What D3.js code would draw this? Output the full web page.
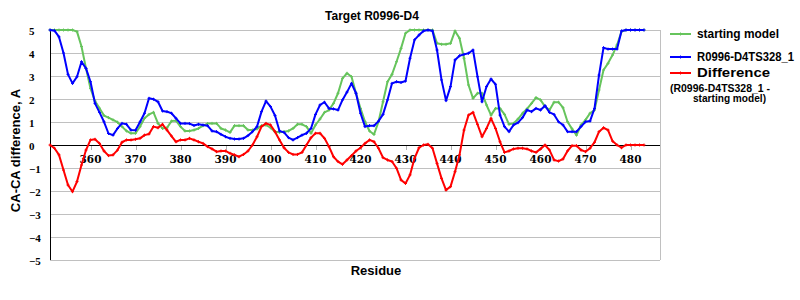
<!DOCTYPE html>
<html>
<head>
<meta charset="utf-8">
<script src="https://cdn.jsdelivr.net/npm/d3@7"></script>
<style>
  html, body { margin: 0; padding: 0; background: #fff; }
  svg { display: block; }
</style>
</head>
<body>
<svg id="chart" width="800" height="300"></svg>
<script>
// ---- data ----
const residueStart = 351;
const residueEnd = 483;
const xTicks = [360, 370, 380, 390, 400, 410, 420, 430, 440, 450, 460, 470, 480];
const yTicks = [-5, -4, -3, -2, -1, 0, 1, 2, 3, 4, 5];
const seriesNames = ["starting model", "R0996-D4TS328_1", "Difference"];

const startingModel = [
  5.0, 5.0, 5.0, 5.0, 5.0, 5.0, 4.93, 4.28, 3.33, 2.46,
  1.91, 1.6, 1.28, 1.19, 1.09, 0.99, 0.8, 0.61, 0.51, 0.51,
  0.8, 1.16, 1.33, 1.42, 0.94, 0.72, 0.75, 1.04, 1.06, 0.8,
  0.61, 0.61, 0.65, 0.72, 0.84, 0.93, 0.94, 0.94, 0.72, 0.65,
  0.55, 0.84, 0.84, 0.84, 0.65, 0.65, 0.7, 0.84, 0.87, 0.75,
  0.58, 0.55, 0.58, 0.61, 0.72, 0.9, 0.9, 0.8, 0.51, 0.87,
  1.13, 1.42, 1.52, 1.81, 2.25, 2.9, 3.12, 2.97, 2.25, 1.59,
  1.01, 0.61, 0.46, 1.01, 1.88, 2.75, 3.07, 3.62, 4.2, 4.86,
  5.0, 5.0, 5.0, 5.0, 5.0, 5.0, 4.42, 4.38, 4.38, 4.42,
  4.96, 4.64, 3.77, 2.61, 2.03, 2.25, 2.25, 1.74, 1.3, 1.59,
  1.59, 1.33, 0.9, 0.94, 1.13, 1.38, 1.57, 1.81, 2.06, 1.96,
  1.67, 1.52, 1.86, 1.86, 1.62, 1.01, 0.7, 0.43, 0.87, 1.09,
  1.38, 1.52, 2.39, 3.26, 3.55, 3.91, 4.35, 4.93, 5.0, 5.0,
  5.0, 5.0, 5.0
];
const modelTS328 = [
  5.0, 4.97, 4.7, 4.0, 3.07, 2.68, 2.97, 3.62, 3.33, 2.75,
  1.81, 1.42, 1.01, 0.5, 0.43, 0.72, 0.94, 0.9, 0.65, 0.64,
  1.0, 1.38, 2.03, 1.99, 1.88, 1.48, 1.45, 1.38, 1.16, 0.94,
  0.94, 0.93, 0.85, 0.9, 0.87, 0.84, 0.61, 0.58, 0.46, 0.36,
  0.29, 0.26, 0.26, 0.29, 0.41, 0.58, 0.8, 1.45, 1.91, 1.67,
  1.28, 0.61, 0.55, 0.32, 0.22, 0.32, 0.43, 0.51, 0.72, 1.33,
  1.74, 1.86, 1.59, 1.57, 1.52, 1.96, 2.3, 2.68, 2.25, 1.38,
  0.8, 0.84, 0.84, 1.04, 1.33, 1.96, 2.68, 2.75, 2.72, 2.78,
  3.77, 4.57, 4.78, 4.96, 5.0, 4.96, 4.13, 2.83, 1.93, 2.54,
  3.7, 3.88, 3.94, 3.99, 4.13, 2.97, 1.88, 2.54, 2.87, 2.64,
  1.3, 0.8, 0.58, 0.87, 0.97, 1.19, 1.52, 1.45, 1.59, 1.52,
  1.71, 1.42, 1.33, 1.01, 0.87, 0.58, 0.58, 0.58, 0.8, 1.01,
  1.04, 1.59, 3.04, 4.23, 4.17, 4.17, 4.17, 4.96, 5.0, 5.0,
  5.0, 5.0, 5.0
];
const difference = [
  0, -0.14, -0.43, -1.09, -1.74, -2.03, -1.59, -0.87, -0.22, 0.22,
  0.25, 0.07, -0.26, -0.46, -0.43, -0.22, 0.12, 0.22, 0.22, 0.25,
  0.29, 0.43, 0.48, 0.8, 0.75, 0.9, 0.65, 0.39, 0.14, 0.22,
  0.22, 0.29, 0.22, 0.14, 0.07, -0.07, -0.17, -0.29, -0.26, -0.26,
  -0.36, -0.43, -0.51, -0.41, -0.26, 0, 0.36, 0.8, 0.94, 0.87,
  0.58, 0.22, -0.12, -0.32, -0.41, -0.41, -0.32, 0, 0.32, 0.51,
  0.51, 0.29, -0.07, -0.51, -0.72, -0.84, -0.65, -0.46, -0.26, -0.12,
  0.07, 0.22, 0.14, -0.14, -0.55, -0.65, -0.72, -1.01, -1.52, -1.67,
  -1.3, -0.58, -0.12, 0, 0.03, -0.14, -0.8, -1.45, -1.96, -1.81,
  -1.16, -0.43, 0.65, 1.3, 1.42, 0.9, 0.36, 0.72, 1.16, 0.72,
  0.14, -0.32, -0.26, -0.17, -0.14, -0.14, -0.17, -0.26, -0.32, -0.17,
  0, -0.22, -0.65, -0.7, -0.61, -0.26, -0.03, -0.03, -0.22, -0.29,
  -0.14, 0.12, 0.58, 0.75, 0.65, 0.17, 0, -0.12, 0, 0,
  0, 0, 0
];
const residues = d3.range(residueStart, residueEnd + 1);

// ---- layout ----
const svg = d3.select("#chart");
const plot = { left: 50, right: 660, top: 30, bottom: 260 };
const x = d3.scaleLinear().domain([351, 486.55]).range([plot.left, plot.right]);
const y = d3.scaleLinear().domain([-5, 5]).range([plot.bottom, plot.top]);
const colors = ["#66c45c", "#0000ff", "#ff0000"];

// gridlines
svg.append("g").selectAll("line").data(yTicks.filter(d => d !== 0)).join("line")
  .attr("x1", plot.left).attr("x2", plot.right)
  .attr("y1", d => y(d)).attr("y2", d => y(d))
  .attr("stroke", "#c0c0c0").attr("stroke-width", 1).attr("shape-rendering", "crispEdges");

// right border
svg.append("line").attr("x1", plot.right).attr("x2", plot.right)
  .attr("y1", plot.top).attr("y2", plot.bottom)
  .attr("stroke", "#c0c0c0").attr("shape-rendering", "crispEdges");

// x ticks on zero line
svg.append("g").selectAll("line").data(xTicks).join("line")
  .attr("x1", d => Math.round(x(d)) + 0.5).attr("x2", d => Math.round(x(d)) + 0.5)
  .attr("y1", y(0)).attr("y2", y(0) + 5)
  .attr("stroke", "#b0b0b0");

// zero line & y axis
svg.append("line").attr("x1", plot.left).attr("x2", plot.right)
  .attr("y1", y(0)).attr("y2", y(0)).attr("stroke", "#000").attr("shape-rendering", "crispEdges");
svg.append("line").attr("x1", plot.left).attr("x2", plot.left)
  .attr("y1", plot.top).attr("y2", plot.bottom).attr("stroke", "#000").attr("shape-rendering", "crispEdges");

// y tick labels
svg.append("g").selectAll("text").data(yTicks).join("text")
  .attr("x", 29).attr("y", d => y(d) + 5)
  .attr("text-anchor", "start")
  .attr("font-family", "Liberation Serif").attr("font-weight", "bold").attr("font-size", 11)
  .text(d => d < 0 ? "\u2212" + Math.abs(d) : d);

// x tick labels
svg.append("g").selectAll("text").data(xTicks).join("text")
  .attr("x", d => x(d)).attr("y", y(0) + 18)
  .attr("text-anchor", "middle")
  .attr("font-family", "DejaVu Serif").attr("font-weight", "bold").attr("font-size", 10.5)
  .text(d => d);

// series
const allSeries = [startingModel, modelTS328, difference];
const line = d3.line().x((d, i) => x(residues[i])).y(d => y(d));
allSeries.forEach((vals, k) => {
  svg.append("path").datum(vals)
    .attr("d", line).attr("fill", "none")
    .attr("stroke", colors[k]).attr("stroke-width", 2).attr("stroke-linejoin", "round");
  svg.append("g").selectAll("path").data(vals).join("path")
    .attr("d", (d, i) => {
      const cx = x(residues[i]), cy = y(d);
      return `M${cx - 1.5},${cy}H${cx + 1.5}M${cx},${cy - 1.5}V${cy + 1.5}`;
    })
    .attr("stroke", colors[k]).attr("stroke-width", 1);
});

// title
svg.append("text").attr("x", 372).attr("y", 19.5).attr("text-anchor", "middle")
  .attr("font-family", "Liberation Sans").attr("font-weight", "bold").attr("font-size", 12)
  .text("Target R0996-D4");

// axis titles
svg.append("text").attr("x", 376).attr("y", 275).attr("text-anchor", "middle")
  .attr("font-family", "Liberation Sans").attr("font-weight", "bold").attr("font-size", 13)
  .text("Residue");
svg.append("text").attr("transform", "translate(20,150.5) rotate(-90)").attr("text-anchor", "middle")
  .attr("font-family", "Liberation Sans").attr("font-weight", "bold").attr("font-size", 13)
  .text("CA-CA difference, A");

// legend
const legendY = [34, 57, 73];
const legendText = [
  { t: seriesNames[0], x: 697, y: 37.5, w: 82, fs: 12 },
  { t: seriesNames[1], x: 697, y: 60.7, w: 97, fs: 12 },
  { t: seriesNames[2], x: 697, y: 77.3, w: 73, fs: 13 }
];
const lg = svg.append("g");
legendY.forEach((ly, k) => {
  lg.append("line").attr("x1", 670).attr("x2", 691).attr("y1", ly).attr("y2", ly)
    .attr("stroke", colors[k]).attr("stroke-width", 2);
  lg.append("path").attr("d", `M680.5,${ly - 1.5}V${ly + 1.5}`).attr("stroke", colors[k]);
  const lt = legendText[k];
  lg.append("text").attr("x", lt.x).attr("y", lt.y)
    .attr("font-family", "Liberation Sans").attr("font-weight", "bold").attr("font-size", lt.fs)
    .attr("textLength", lt.w).attr("lengthAdjust", "spacingAndGlyphs")
    .text(lt.t);
});
lg.append("text").attr("x", 670).attr("y", 91.7)
  .attr("font-family", "Liberation Sans").attr("font-weight", "bold").attr("font-size", 10)
  .attr("textLength", 100).attr("lengthAdjust", "spacingAndGlyphs")
  .text("(R0996-D4TS328_1 -");
lg.append("text").attr("x", 693).attr("y", 101.7)
  .attr("font-family", "Liberation Sans").attr("font-weight", "bold").attr("font-size", 10)
  .attr("textLength", 73).attr("lengthAdjust", "spacingAndGlyphs")
  .text("starting model)");
</script>
</body>
</html>
